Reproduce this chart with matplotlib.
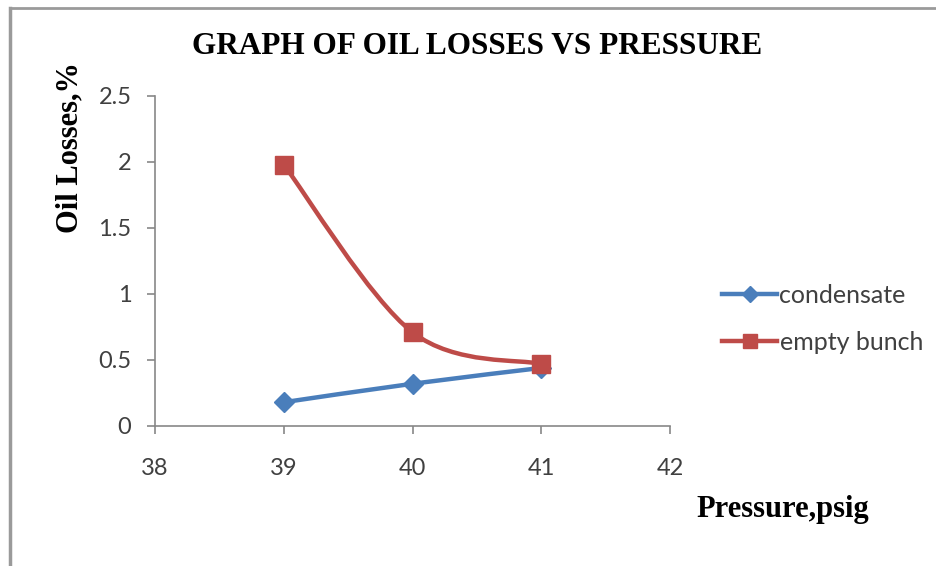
import numpy as np
import matplotlib
matplotlib.use("Agg")
import matplotlib.pyplot as plt
from matplotlib.path import Path
from matplotlib.patches import PathPatch
from matplotlib.lines import Line2D

# Data
pressure = [39, 40, 41]
condensate = [0.18, 0.32, 0.44]
empty_bunch = [1.98, 0.71, 0.47]
x_ticks = [38, 39, 40, 41, 42]
y_ticks = [0, 0.5, 1, 1.5, 2, 2.5]

BLUE = "#4A7EBB"
RED = "#BE4B48"
AXIS = "#878787"
TEXT = "#404040"
SERIF = ["Liberation Serif", "DejaVu Serif"]
SANS = ["Lato", "DejaVu Sans"]

fig = plt.figure(figsize=(9.36, 5.66), dpi=100)
ax = fig.add_axes([155 / 936, 1 - 426 / 566, (670 - 155) / 936, (426 - 96) / 566])


def smooth_path(xs, ys):
    """Cubic Bezier path through the points (Catmull-Rom style smoothing)."""
    pts = np.column_stack([xs, ys]).astype(float)
    n = len(pts)
    verts = [pts[0]]
    codes = [Path.MOVETO]
    for i in range(n - 1):
        p0 = pts[max(i - 1, 0)]
        p1 = pts[i]
        p2 = pts[i + 1]
        p3 = pts[min(i + 2, n - 1)]
        c1 = p1 + (p2 - p0) / 6.0
        c2 = p2 - (p3 - p1) / 6.0
        verts += [c1, c2, p2]
        codes += [Path.CURVE4] * 3
    return Path(verts, codes)


for ys, color, marker, ms, label in [
    (condensate, BLUE, "D", 10, "condensate"),
    (empty_bunch, RED, "s", 13.5, "empty bunch"),
]:
    ax.add_patch(PathPatch(smooth_path(pressure, ys), facecolor="none",
                           edgecolor=color, lw=3.2, capstyle="round",
                           joinstyle="round", zorder=3))
    ax.plot(pressure, ys, linestyle="none", marker=marker, markersize=ms,
            color=color, markeredgecolor=color, zorder=4, label=label)

ax.set_xlim(38, 42)
ax.set_ylim(0, 2.5)
ax.set_xticks(x_ticks)
ax.set_yticks(y_ticks)
ax.set_xticklabels([str(v) for v in x_ticks])
ax.set_yticklabels([f"{v:g}" for v in y_ticks])

for side in ("top", "right"):
    ax.spines[side].set_visible(False)
for side in ("left", "bottom"):
    ax.spines[side].set_color(AXIS)
    ax.spines[side].set_linewidth(1.2)

ax.tick_params(axis="both", direction="out", length=6, width=1.2,
               color=AXIS, labelcolor=TEXT, labelsize=17)
ax.tick_params(axis="x", pad=17)
ax.tick_params(axis="y", pad=11)
for lab in ax.get_xticklabels() + ax.get_yticklabels():
    lab.set_family(SANS)

# Titles and axis captions
fig.text(477 / 936, 1 - 47 / 566, "GRAPH OF OIL LOSSES VS PRESSURE",
         family=SERIF, weight="bold", fontsize=22.5, ha="center", va="center",
         color="black")
fig.text(70 / 936, 1 - 147 / 566, "Oil Losses,%", family=SERIF,
         weight="bold", fontsize=22, rotation=90, ha="center", va="center")
fig.text(783 / 936, 1 - 510 / 566, "Pressure,psig", family=SERIF,
         weight="bold", fontsize=22, ha="center", va="center")

# Legend
handles = [
    Line2D([], [], color=BLUE, lw=3.2, marker="D", markersize=8),
    Line2D([], [], color=RED, lw=3.2, marker="s", markersize=10),
]
leg = fig.legend(handles, ["condensate", "empty bunch"],
                 loc="center left", bbox_to_anchor=(722 / 936, 1 - 319 / 566),
                 frameon=False, borderpad=0, borderaxespad=0,
                 handlelength=2.2, handletextpad=0.1,
                 labelspacing=0.95, prop={"family": SANS, "size": 18})
for t in leg.get_texts():
    t.set_color(TEXT)

# Frame lines along the left and top edges of the image
fig.add_artist(Line2D([10 / 936, 10 / 936], [0, 1 - 8 / 566],
                      transform=fig.transFigure, color="#9a9a9a", lw=2.5))
fig.add_artist(Line2D([10 / 936, 1], [1 - 8 / 566, 1 - 8 / 566],
                      transform=fig.transFigure, color="#9a9a9a", lw=2.0))

fig.savefig("out.png", dpi=100)
